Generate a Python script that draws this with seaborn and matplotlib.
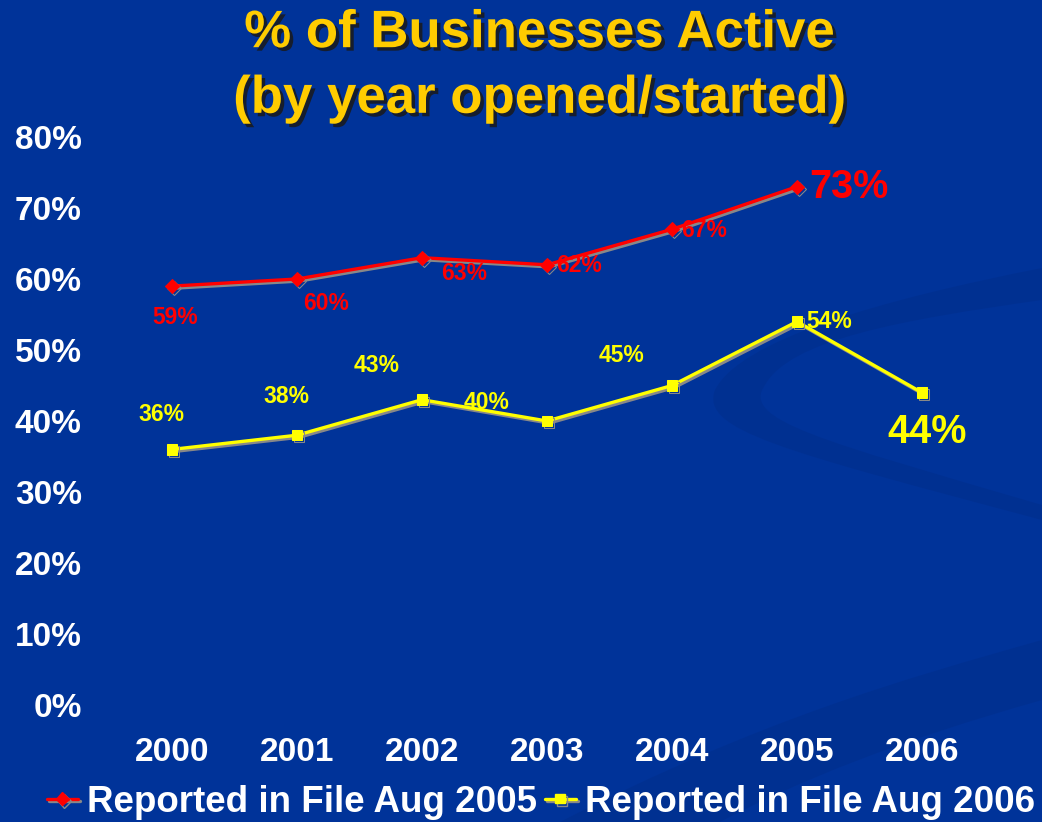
import matplotlib
matplotlib.use("Agg")
import matplotlib.pyplot as plt
import matplotlib.patheffects as pe
from matplotlib.path import Path
from matplotlib.patches import PathPatch
from matplotlib.lines import Line2D
import seaborn as sns
import pandas as pd

# --- data ---
years = [2000, 2001, 2002, 2003, 2004, 2005, 2006]
year_labels = ["2000", "2001", "2002", "2003", "2004", "2005", "2006"]
aug2005_years = [2000, 2001, 2002, 2003, 2004, 2005]
aug2005_pct = [59, 60, 63, 62, 67, 73]
aug2006_years = [2000, 2001, 2002, 2003, 2004, 2005, 2006]
aug2006_pct = [36, 38, 43, 40, 45, 54, 44]
series_names = ["Reported in File Aug 2005", "Reported in File Aug 2006"]
y_ticks = [0, 10, 20, 30, 40, 50, 60, 70, 80]
title_text = "% of Businesses Active\n(by year opened/started)"

# label placement (pixel offsets from each point)
off_2005 = [(3, -31), (29, -25), (42, -16), (32, -1), (32, -1), (52, 0)]
off_2006 = [(-11, 35), (-11, 39), (-45, 34), (-60, 19), (-51, 30), (32, 0), (5, -39)]
big_2005 = [False, False, False, False, False, True]
big_2006 = [False, False, False, False, False, False, True]

BG = "#003399"
RED = "#ff0000"
YEL = "#ffff00"

sns.set_style("white")
plt.rcParams["font.family"] = ["Liberation Sans", "DejaVu Sans"]
plt.rcParams["font.weight"] = "bold"

W, H = 1042, 822
fig = plt.figure(figsize=(W / 100, H / 100), dpi=100, facecolor=BG)


def fp(x, y):
    return (x / W, 1 - y / H)


# decorative background sweeps
bg = fig.add_axes([0, 0, 1, 1], zorder=-5)
bg.set_xlim(0, 1)
bg.set_ylim(0, 1)
bg.axis("off")
swoosh = Path(
    [fp(1042, 268), fp(880, 300), fp(740, 340), fp(715, 390),
     fp(700, 430), fp(780, 450), fp(1042, 520),
     fp(1042, 505), fp(820, 440), fp(740, 420), fp(765, 385),
     fp(790, 340), fp(900, 320), fp(1042, 300), fp(1042, 268)],
    [Path.MOVETO, Path.CURVE4, Path.CURVE4, Path.CURVE4,
     Path.CURVE4, Path.CURVE4, Path.CURVE4,
     Path.LINETO, Path.CURVE4, Path.CURVE4, Path.CURVE4,
     Path.CURVE4, Path.CURVE4, Path.CURVE4, Path.CLOSEPOLY])
bg.add_patch(PathPatch(swoosh, facecolor="#002a80", edgecolor="none", alpha=0.3))
band = Path(
    [fp(560, 822), fp(760, 720), fp(900, 680), fp(1042, 640),
     fp(1042, 700), fp(900, 740), fp(800, 780), fp(720, 822), fp(560, 822)],
    [Path.MOVETO, Path.CURVE4, Path.CURVE4, Path.CURVE4,
     Path.LINETO, Path.CURVE4, Path.CURVE4, Path.CURVE4, Path.CLOSEPOLY])
bg.add_patch(PathPatch(band, facecolor="#002a80", edgecolor="none", alpha=0.3))

# main axes
ax = fig.add_axes([109.5 / W, 1 - 705 / H, 875 / W, 568 / H])
ax.set_facecolor("none")

df05 = pd.DataFrame({"year": aug2005_years, "pct": aug2005_pct})
df06 = pd.DataFrame({"year": aug2006_years, "pct": aug2006_pct})

shadow = [pe.SimpleLineShadow(offset=(1.5, -1.5), shadow_color="#888888", alpha=1.0),
          pe.Normal()]

sns.lineplot(data=df05, x="year", y="pct", ax=ax, color=RED, linewidth=2.4,
             marker="D", markersize=7, markeredgecolor=RED, path_effects=shadow)
sns.lineplot(data=df06, x="year", y="pct", ax=ax, color=YEL, linewidth=2.4,
             marker="s", markersize=7.5, markeredgecolor=YEL, path_effects=shadow)

ax.set_xlim(1999.5, 2006.5)
ax.set_ylim(0, 80)
ax.set_xticks(years)
ax.set_xticklabels(year_labels)
ax.set_yticks(y_ticks)
ax.set_yticklabels([f"{v}%" for v in y_ticks])
ax.tick_params(axis="both", length=0, colors="white", labelsize=24)
ax.tick_params(axis="y", pad=20)
ax.tick_params(axis="x", pad=23)
for lab in ax.get_xticklabels() + ax.get_yticklabels():
    lab.set_fontweight("bold")
ax.set_xlabel("")
ax.set_ylabel("")
for s in ax.spines.values():
    s.set_visible(False)
ax.grid(False)

# value labels
for x, v, o, big in zip(aug2005_years, aug2005_pct, off_2005, big_2005):
    ax.annotate(f"{v}%", (x, v), xytext=o, textcoords="offset pixels",
                ha="center", va="center", color=RED, fontweight="bold",
                fontsize=28.5 if big else 16.5)
for x, v, o, big in zip(aug2006_years, aug2006_pct, off_2006, big_2006):
    ax.annotate(f"{v}%", (x, v), xytext=o, textcoords="offset pixels",
                ha="center", va="center", color=YEL, fontweight="bold",
                fontsize=28.5 if big else 16.5)

# title
fig.text(539 / W, 1 - 66 / H, title_text, ha="center", va="center",
         color="#ffcc00", fontsize=38, fontweight="bold", linespacing=1.4,
         path_effects=[pe.withSimplePatchShadow(offset=(2.5, -2.5), shadow_rgbFace="#1a1a1a",
                                                alpha=0.85)])

# legend
handles = [
    Line2D([], [], color=RED, marker="D", markersize=7, linewidth=2.4,
           path_effects=shadow),
    Line2D([], [], color=YEL, marker="s", markersize=7, linewidth=2.4,
           path_effects=shadow),
]
leg = fig.legend(handles, series_names, loc="center", bbox_to_anchor=(541 / W, 1 - 802 / H),
                 ncol=2, frameon=False, handlelength=0.85, handletextpad=0.25,
                 columnspacing=0.2, prop={"size": 26.5, "weight": "bold"},
                 labelcolor="white")

fig.savefig("out.png", dpi=100, facecolor=BG)
